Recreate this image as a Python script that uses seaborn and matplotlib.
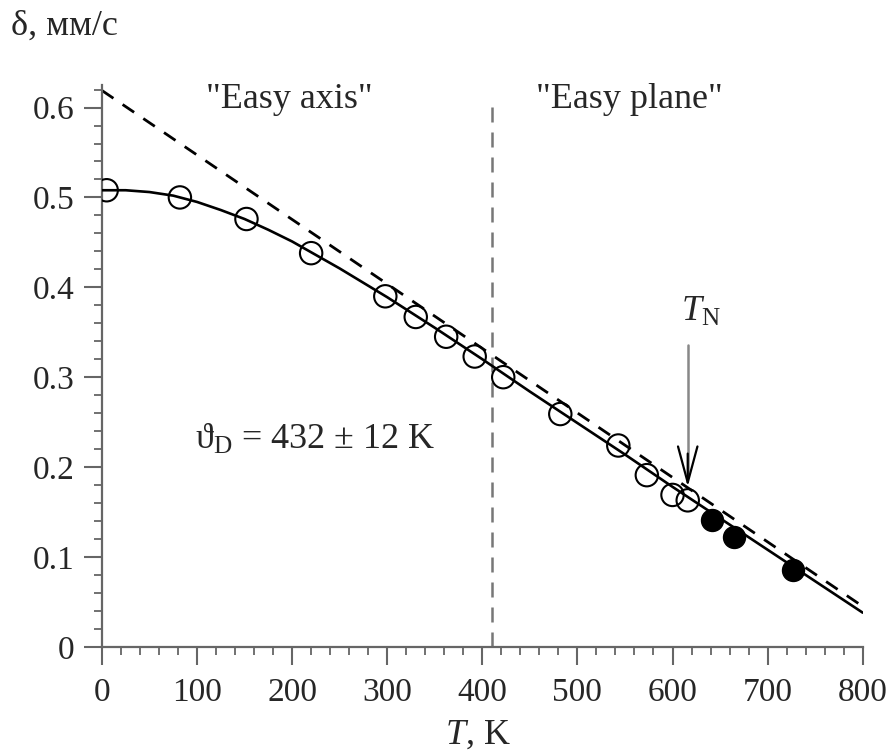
import matplotlib
matplotlib.use('Agg')
import matplotlib.pyplot as plt
from matplotlib.ticker import MultipleLocator
import pandas as pd
import seaborn as sns

# open circles (T, K / delta, mm/s)
t_open = [5, 82, 152, 220, 298, 330, 362, 392, 422, 482, 543, 573, 600, 616]
d_open = [0.508, 0.500, 0.476, 0.438, 0.390, 0.367, 0.345, 0.323, 0.300, 0.259, 0.224, 0.191, 0.169, 0.163]

# filled circles above T_N
t_fill = [641, 665, 727]
d_fill = [0.141, 0.122, 0.086]

# fitted Debye curve
t_fit = [0, 25, 50, 75, 100, 125, 150, 175, 200, 225, 250, 275, 300,
         350, 400, 450, 500, 550, 600, 650, 700, 750, 800]
d_fit = [0.508, 0.508, 0.506, 0.502, 0.495, 0.486, 0.476, 0.464, 0.451, 0.436, 0.421, 0.405, 0.389,
         0.355, 0.320, 0.284, 0.249, 0.214, 0.178, 0.143, 0.108, 0.073, 0.038]

# high temperature asymptote
t_lin = [0, 800]
d_lin = [0.619, 0.045]

t_boundary = 410
t_neel = 616

sns.set_style('ticks')
plt.rcParams['font.family'] = ['Liberation Serif', 'DejaVu Serif']
plt.rcParams['mathtext.fontset'] = 'custom'
plt.rcParams['mathtext.rm'] = 'Liberation Serif'
plt.rcParams['mathtext.it'] = 'Liberation Serif:italic'

fig = plt.figure(figsize=(8.94, 7.53), dpi=100)
ax = fig.add_axes([0.114, 0.141, 0.851, 0.746])

fs_tick = 24
fs = 26

ax.plot(t_lin, d_lin, color='black', lw=2.0, ls=(0, (5, 4)), zorder=2)
ax.plot([t_boundary, t_boundary], [0, 0.608], color='#777777', lw=1.8, ls=(0, (6, 4)), zorder=1)

sns.lineplot(x=t_fit, y=d_fit, color='black', lw=1.9, ax=ax, zorder=3)
sns.scatterplot(x=t_open, y=d_open, s=260, facecolor='none', edgecolor='black',
                linewidth=1.5, ax=ax, zorder=4)
sns.scatterplot(x=t_fill, y=d_fill, s=250, color='black', edgecolor='black',
                linewidth=1.0, ax=ax, zorder=4)

ax.set_xlim(0, 800)
ax.set_ylim(0, 0.625)
ax.xaxis.set_major_locator(MultipleLocator(100))
ax.xaxis.set_minor_locator(MultipleLocator(20))
ax.yaxis.set_minor_locator(MultipleLocator(0.02))
ax.set_yticks([0, 0.1, 0.2, 0.3, 0.4, 0.5, 0.6])
ax.set_yticklabels(['0', '0.1', '0.2', '0.3', '0.4', '0.5', '0.6'])
ax.tick_params(which='major', length=13, width=1.5, color='#666666', labelsize=fs_tick)
ax.tick_params(axis='x', which='major', pad=9)
ax.tick_params(axis='y', which='major', pad=7)
ax.tick_params(which='minor', length=6, width=1.3, color='#666666')
for s in ['top', 'right']:
    ax.spines[s].set_visible(False)
for s in ['left', 'bottom']:
    ax.spines[s].set_color('#666666')
    ax.spines[s].set_linewidth(1.6)
ax.set_xlabel('')
ax.set_ylabel('')

ax.text(197, 0.609, '"Easy axis"', fontsize=fs, ha='center', va='center')
ax.text(555, 0.609, '"Easy plane"', fontsize=fs, ha='center', va='center')
ax.text(98, 0.23, r'ϑ$_{\rm D}$ = 432 ± 12 K', fontsize=fs, ha='left', va='center')
ax.text(630, 0.372, r'$T_{\rm N}$', fontsize=fs, ha='center', va='center')
ax.plot([t_neel, t_neel], [0.336, 0.19], color='#888888', lw=1.8, zorder=5)
ax.annotate('', xy=(t_neel, 0.178), xytext=(t_neel, 0.215),
            arrowprops=dict(arrowstyle='->, head_length=1.3, head_width=0.35',
                            color='black', lw=1.6, shrinkA=0, shrinkB=0,
                            mutation_scale=20), zorder=6)

fig.text(0.012, 0.965, 'δ, мм/с', fontsize=fs, ha='left', va='center')
fig.text(0.535, 0.024, r'$T$, K', fontsize=fs, ha='center', va='center')

fig.savefig('out.png', dpi=100)
